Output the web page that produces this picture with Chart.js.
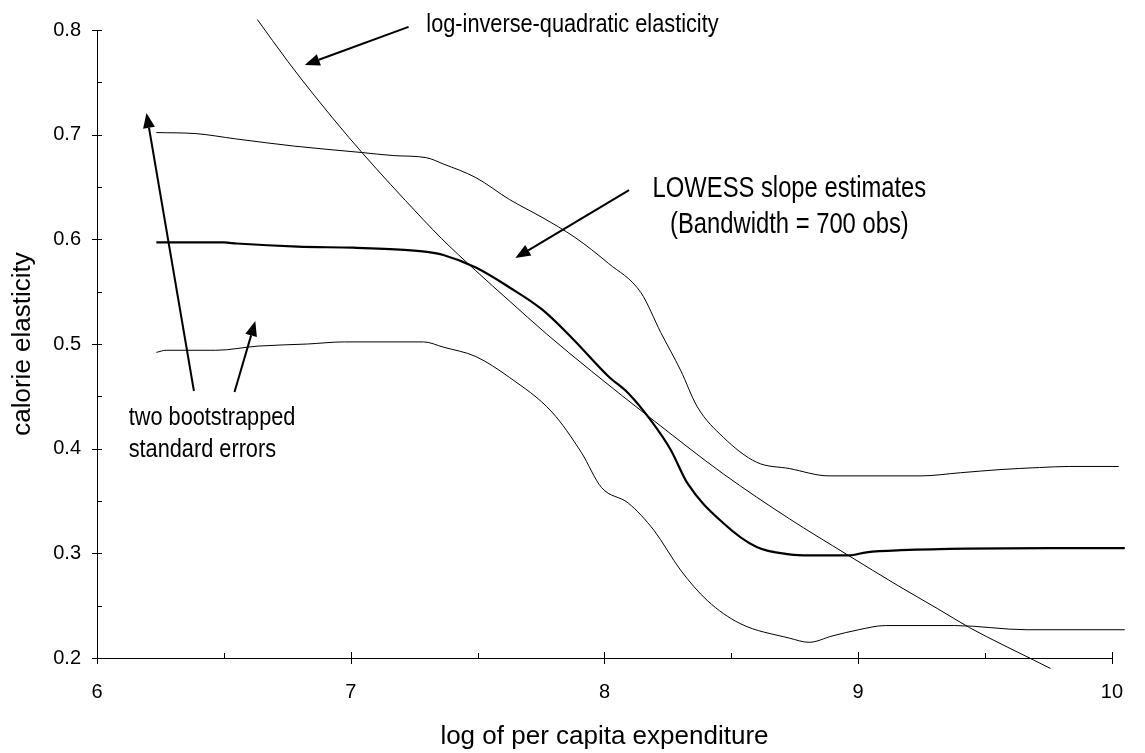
<!DOCTYPE html>
<html><head><meta charset="utf-8">
<script src="https://cdn.jsdelivr.net/npm/chart.js@4"></script>
<style>html,body{margin:0;padding:0;background:#fff;}#wrap{width:1145px;height:753px;position:relative;}</style>
</head><body><div id="wrap"><canvas id="c"></canvas></div>
<script>
// ---- tick labels ----
const xTickLabels = [6, 7, 8, 9, 10];
const yTickLabels = [0.2, 0.3, 0.4, 0.5, 0.6, 0.7, 0.8];

// ---- log-inverse-quadratic elasticity ----
const liqX = [6.632,6.752,6.858,6.994,7.099,7.216,7.357,7.493,7.626,7.77,7.949,8.183,8.468,8.729,8.955,9.158,9.314,9.439,9.575,9.692,9.758];
const liqY = [0.810,0.770,0.737,0.697,0.668,0.637,0.601,0.570,0.541,0.510,0.474,0.429,0.376,0.333,0.299,0.269,0.247,0.229,0.212,0.198,0.190];

// ---- LOWESS slope estimates ----
const lowX = [6.234,6.50,6.55,6.79,7.01,7.21,7.30,7.365,7.493,7.626,7.754,7.871,8.016,8.094,8.183,8.261,8.327,8.468,8.600,8.729,8.807,8.963,9.033,9.170,9.754,10.051];
const lowY = [0.597,0.597,0.596,0.593,0.592,0.590,0.588,0.585,0.573,0.554,0.533,0.506,0.469,0.453,0.427,0.399,0.367,0.329,0.306,0.299,0.298,0.298,0.301,0.303,0.305,0.305];

// ---- upper band (+2 s.e.) ----
const upX = [6.234,6.390,6.546,6.780,7.041,7.170,7.298,7.365,7.493,7.626,7.754,7.883,8.016,8.144,8.222,8.300,8.366,8.468,8.600,8.729,8.885,9.248,9.403,9.559,9.715,9.832,10.027,10.051];
const upY = [0.702,0.701,0.696,0.689,0.683,0.680,0.678,0.672,0.659,0.638,0.621,0.602,0.577,0.549,0.511,0.475,0.440,0.411,0.387,0.381,0.374,0.374,0.377,0.380,0.382,0.383,0.383,0.385];

// ---- lower band (-2 s.e.) ----
const loX = [6.234,6.273,6.468,6.635,6.830,6.975,7.287,7.365,7.493,7.626,7.793,7.910,7.988,8.094,8.195,8.300,8.405,8.534,8.729,8.807,8.897,9.002,9.107,9.380,9.665,10.051];
const loY = [0.492,0.494,0.494,0.498,0.500,0.502,0.502,0.497,0.488,0.468,0.435,0.396,0.363,0.348,0.322,0.284,0.255,0.233,0.219,0.215,0.221,0.227,0.231,0.231,0.227,0.227];

// ---- annotations (data units) ----
const noteTexts = ["log-inverse-quadratic elasticity","LOWESS slope estimates","(Bandwidth = 700 obs)","two bootstrapped","standard errors"];
const noteX = [7.298, 8.729, 8.729, 6.125, 6.125];
const noteY = [0.798, 0.6404, 0.606, 0.4226, 0.392];
const noteAlign = ["left","center","center","left","left"];
const noteSize = [26.5, 29, 29, 26.5, 26.5];
const arrowFromX = [7.228, 8.097, 6.382, 6.542];
const arrowFromY = [0.803, 0.6471, 0.4551, 0.4541];
const arrowToX = [6.819, 7.649, 6.195, 6.624];
const arrowToY = [0.7666, 0.5822, 0.7207, 0.522];

const pts = (xs, ys) => xs.map((x, i) => ({x: x, y: ys[i]}));
const FONT = '"Liberation Sans", Arial, Helvetica, sans-serif';

const decorPlugin = {
  id: 'decor',
  afterDraw(chart) {
    const ctx = chart.ctx, xs = chart.scales.x, ys = chart.scales.y;
    const ax = xs.left, ay = ys.bottom;
    ctx.save();
    ctx.strokeStyle = '#000'; ctx.lineWidth = 1;
    // y ticks
    for (let k = 0; k <= 12; k++) {
      const v = 0.2 + k * 0.05;
      const py = Math.round(ys.getPixelForValue(v)) + 0.5;
      ctx.beginPath();
      if (k % 2 === 0) { ctx.moveTo(ax - 5, py); ctx.lineTo(ax + 5, py); }
      else { ctx.moveTo(ax, py); ctx.lineTo(ax + 5, py); }
      ctx.stroke();
    }
    // x ticks
    for (let k = 0; k <= 8; k++) {
      const v = 6 + k * 0.5;
      const px = Math.round(xs.getPixelForValue(v)) + 0.5;
      ctx.beginPath();
      if (k % 2 === 0) { ctx.moveTo(px, ay - 6); ctx.lineTo(px, ay + 6); }
      else { ctx.moveTo(px, ay); ctx.lineTo(px, ay - 5); }
      ctx.stroke();
    }
    // arrows
    ctx.fillStyle = '#000'; ctx.lineWidth = 2;
    for (let i = 0; i < arrowFromX.length; i++) {
      const x1 = xs.getPixelForValue(arrowFromX[i]), y1 = ys.getPixelForValue(arrowFromY[i]);
      const x2 = xs.getPixelForValue(arrowToX[i]), y2 = ys.getPixelForValue(arrowToY[i]);
      const a = Math.atan2(y2 - y1, x2 - x1), L = 15, W = 6;
      const bx = x2 - L * Math.cos(a), by = y2 - L * Math.sin(a);
      ctx.beginPath(); ctx.moveTo(x1, y1); ctx.lineTo(bx, by); ctx.stroke();
      ctx.beginPath();
      ctx.moveTo(x2, y2);
      ctx.lineTo(bx + W * Math.sin(a), by - W * Math.cos(a));
      ctx.lineTo(bx - W * Math.sin(a), by + W * Math.cos(a));
      ctx.closePath(); ctx.fill();
    }
    // texts (narrow sans)
    for (let i = 0; i < noteTexts.length; i++) {
      const px = xs.getPixelForValue(noteX[i]), py = ys.getPixelForValue(noteY[i]);
      ctx.font = noteSize[i] + 'px ' + FONT;
      ctx.textBaseline = 'alphabetic'; ctx.textAlign = 'left';
      const sc = 0.82;
      const w = ctx.measureText(noteTexts[i]).width * sc;
      const x0 = noteAlign[i] === 'center' ? px - w / 2 : px;
      ctx.save(); ctx.translate(x0, py); ctx.scale(sc, 1);
      ctx.fillText(noteTexts[i], 0, 0); ctx.restore();
    }
    ctx.restore();
  }
};

const thin = {borderColor: '#000', borderWidth: 1, pointRadius: 0, fill: false, clip: false, cubicInterpolationMode: 'monotone'};
new Chart(document.getElementById('c'), {
  type: 'line',
  data: {
    datasets: [
      Object.assign({label: 'log-inverse-quadratic elasticity', data: pts(liqX, liqY)}, thin),
      Object.assign({label: 'upper', data: pts(upX, upY)}, thin),
      Object.assign({label: 'lower', data: pts(loX, loY)}, thin),
      Object.assign({label: 'LOWESS slope estimates', data: pts(lowX, lowY)}, thin, {borderWidth: 2.2})
    ]
  },
  options: {
    responsive: true, maintainAspectRatio: false, animation: false, devicePixelRatio: 1,
    layout: {padding: {top: 30, right: 22, left: 0, bottom: 0}},
    plugins: {legend: {display: false}, tooltip: {enabled: false}},
    scales: {
      x: {
        type: 'linear', min: 6, max: 10,
        afterBuildTicks: s => { s.ticks = xTickLabels.map(v => ({value: v})); },
        afterFit: s => { s.height = 95; },
        ticks: {color: '#000', font: {family: FONT, size: 20}, padding: 22, callback: v => String(v)},
        grid: {drawOnChartArea: false, drawTicks: false},
        border: {display: true, color: '#000', width: 1},
        title: {display: true, text: 'log of per capita expenditure', color: '#000', font: {family: FONT, size: 26}, padding: {top: 0, bottom: 1}}
      },
      y: {
        type: 'linear', min: 0.2, max: 0.8,
        afterBuildTicks: s => { s.ticks = yTickLabels.map(v => ({value: v})); },
        afterFit: s => { s.width = 97; },
        ticks: {color: '#000', font: {family: FONT, size: 20}, padding: 16, callback: v => Number(v).toFixed(1)},
        grid: {drawOnChartArea: false, drawTicks: false},
        border: {display: true, color: '#000', width: 1},
        title: {display: true, text: 'calorie elasticity', color: '#000', font: {family: FONT, size: 26}, padding: {top: 7, bottom: 0}}
      }
    }
  },
  plugins: [decorPlugin]
});
</script></body></html>
